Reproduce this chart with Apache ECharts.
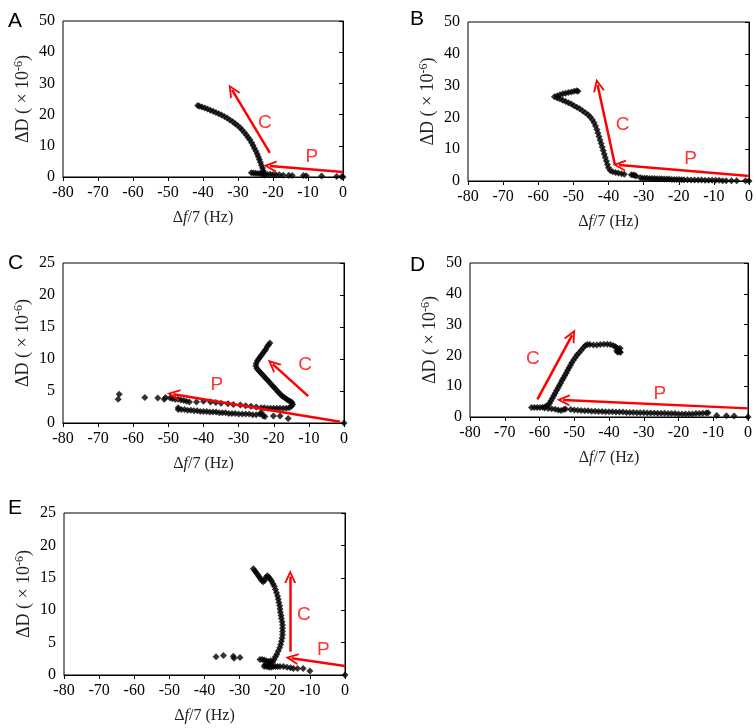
<!DOCTYPE html>
<html>
<head>
<meta charset="utf-8">
<script src="https://cdn.jsdelivr.net/npm/echarts@6/dist/echarts.min.js"></script>
<style>
html,body{margin:0;padding:0;background:#fff;}
#chart{width:756px;height:728px;}
</style>
</head>
<body>
<div id="chart"></div>
<script>
// ---------- data (Δf/7 in Hz, ΔD in 1e-6) ----------
const xTicks = [-80, -70, -60, -50, -40, -30, -20, -10, 0];
const panelLetters = ['A', 'B', 'C', 'D', 'E'];
const yMaxes = [50, 50, 25, 50, 25];
const yIntervals = [10, 10, 5, 10, 5];

const dataA = [
  [-41.5,22.9],[-41,22.7],[-40.3,22.4],[-39.5,22.1],[-38.7,21.8],[-37.9,21.4],[-37.1,21.1],[-36.3,20.7],
  [-35.5,20.3],[-34.7,19.9],[-33.9,19.4],[-33.1,18.9],[-32.3,18.3],[-31.5,17.7],[-30.8,17.1],[-30.1,16.5],
  [-29.4,15.8],[-28.8,15.1],[-28.2,14.3],[-27.6,13.5],[-27.1,12.7],[-26.6,11.9],[-26.1,11.0],[-25.7,10.1],
  [-25.3,9.2],[-24.9,8.3],[-24.5,7.4],[-24.2,6.5],[-23.9,5.6],[-23.6,4.7],[-23.3,3.8],[-23.0,2.9],
  [-22.8,2.0],[-22.6,1.2],[-22.5,0.6],
  [-26.2,1.4],[-25.6,1.3],[-25,1.2],[-24.4,1.1],[-23.8,1.1],[-23.2,1.0],[-22.4,1.0],[-21.6,0.9],
  [-20.8,0.9],[-20,0.8],[-19.2,0.7],[-18.2,0.7],[-17.1,0.6],[-15.5,0.6],[-14.5,0.5],[-11.3,0.5],
  [-10.5,0.4],[-6.1,0.3],[-1.8,0.2],[-0.4,0.1],[0,0]
];
const dataB = [
  [-55.4,26.5],[-54.6,26.8],[-53.8,27.1],[-53,27.4],[-52.2,27.6],[-51.4,27.8],[-50.6,28.0],[-49.8,28.2],
  [-49.1,28.4],[-48.7,28.2],
  [-54.6,26.1],[-53.8,25.8],[-53,25.4],[-52.2,25.0],[-51.4,24.6],[-50.6,24.2],[-49.8,23.7],[-49,23.2],
  [-48.2,22.7],[-47.4,22.1],[-46.6,21.5],[-45.8,20.8],[-45.2,20.1],
  [-44.6,19.3],[-44.1,18.3],[-43.7,17.3],[-43.3,16.2],[-43,15.1],[-42.7,14.0],[-42.4,12.9],[-42.1,11.8],
  [-41.8,10.7],[-41.5,9.6],[-41.2,8.5],[-40.9,7.4],[-40.6,6.3],[-40.3,5.2],[-40,4.2],[-39.5,3.3],
  [-38.8,2.9],[-38,2.7],[-37.2,2.5],[-36.3,2.3],[-35.5,2.1],[-33.5,2.0],[-33,1.9],[-32.5,1.8],[-32.2,1.6],
  [-31,1.1],[-30.3,0.9],[-29.7,0.9],[-29,0.9],[-28.3,0.8],[-27.6,0.8],[-26.9,0.8],[-26.2,0.7],[-25.5,0.7],
  [-24.8,0.7],[-24.1,0.6],[-23.4,0.6],[-22.7,0.6],[-22,0.5],[-21.3,0.5],[-20.6,0.5],[-19.9,0.5],[-19.2,0.4],
  [-18.5,0.4],[-17.5,0.4],[-16.5,0.3],[-15.5,0.3],[-14.5,0.3],[-13.5,0.3],[-12.5,0.2],[-11.5,0.2],
  [-10.5,0.2],[-9.5,0.2],[-8.5,0.2],[-7.5,0.1],[-6.5,0.1],[-5,0.1],[-3.5,0.1],[-1,0.1],[0,0]
];
const dataC = [
  [-21.1,12.5],[-21.5,12.2],[-21.9,11.9],[-22.3,11.5],[-22.7,11.2],[-23.1,10.9],[-23.5,10.6],[-23.9,10.3],
  [-24.3,10.0],[-24.7,9.7],[-25.0,9.3],[-25.1,8.9],[-24.8,8.5],[-24.3,8.2],[-23.8,7.9],[-23.3,7.6],
  [-22.8,7.3],[-22.3,7.0],[-21.8,6.7],[-21.3,6.4],[-20.8,6.1],[-20.3,5.8],[-19.8,5.5],[-19.3,5.2],
  [-18.8,4.9],[-18.3,4.6],[-17.8,4.3],[-17.3,4.1],[-16.8,3.9],[-16.3,3.7],[-15.8,3.5],[-15.3,3.4],
  [-14.8,3.2],[-14.6,2.9],[-15.0,2.6],[-15.6,2.4],[-16.4,2.3],[-17.3,2.3],[-18.2,2.3],[-19.1,2.3],
  [-20.0,2.3],[-20.9,2.3],[-21.8,2.3],[-22.7,2.4],[-23.6,2.4],
  [-25,2.5],[-26.5,2.6],[-28,2.7],[-29.5,2.8],[-31.5,2.9],[-33,3.0],[-35,3.1],[-36.5,3.2],[-38,3.3],
  [-40,3.4],[-42,3.3],[-44,3.3],[-44.8,3.4],[-45.6,3.5],[-46.4,3.6],[-47.2,3.7],[-48,3.7],[-48.8,3.8],
  [-49.5,3.9],[-50.8,4.0],[-51.2,3.7],[-53,3.9],[-56.7,4.0],[-64,4.5],[-64.3,3.7],
  [-47.2,2.4],[-47.2,2.1],[-46.3,2.1],[-45.4,2.1],[-44.5,2.0],[-43.6,2.0],[-42.7,1.9],[-41.8,1.9],
  [-40.9,1.8],[-40,1.8],[-39.1,1.8],[-38.2,1.7],[-37.3,1.7],[-36.4,1.7],[-35.5,1.6],[-34.6,1.6],
  [-33.7,1.6],[-32.8,1.5],[-31.9,1.5],[-31,1.5],[-30,1.4],[-29,1.4],[-28,1.4],[-27,1.4],[-26,1.3],
  [-25,1.3],[-24,1.4],[-23.5,1.6],[-23,1.1],[-22.5,1.0],[-20.1,1.1],[-18.2,1.1],[-15.9,0.7],[0,0]
];
const dataD = [
  [-62.3,3.1],[-61.5,3.1],[-60.7,3.1],[-59.9,3.1],[-59.1,3.2],[-58.3,3.4],[-57.6,3.8],[-57.1,4.5],
  [-56.7,5.3],[-56.3,6.1],[-55.9,6.9],[-55.5,7.7],[-55.1,8.6],[-54.7,9.4],[-54.3,10.2],[-53.9,11.0],
  [-53.5,11.9],[-53.1,12.7],[-52.7,13.5],[-52.3,14.3],[-51.9,15.2],[-51.5,16.0],[-51.1,16.8],[-50.7,17.6],
  [-50.2,18.5],[-49.7,19.3],[-49.2,20.1],[-48.6,20.9],[-48,21.7],[-47.4,22.5],[-46.8,23.2],[-46.2,23.5],
  [-45.5,23.5],[-44.5,23.4],[-43.5,23.4],[-42.5,23.5],[-41.5,23.6],[-40.5,23.6],[-39.6,23.5],[-38.8,23.2],
  [-38.1,22.8],[-37.6,22.3],[-37.2,21.8],[-37,21.2],[-37.5,21.0],[-36.8,22.3],[-37.8,21.5],[-36.7,21.0],
  [-58.5,2.9],[-57.5,2.8],[-56.5,2.7],[-55.5,2.5],[-54.6,2.3],[-53.8,2.1],[-53,2.4],[-52.5,2.6],
  [-51,2.4],[-50,2.3],[-49,2.2],[-48,2.1],[-47,2.0],[-46,2.0],[-45,1.9],[-44,1.9],[-43,1.8],[-42,1.8],
  [-41,1.7],[-40,1.7],[-39,1.7],[-38,1.6],[-37,1.6],[-36,1.6],[-35,1.5],[-34,1.5],[-33,1.5],[-32,1.4],
  [-31,1.4],[-30,1.4],[-29,1.3],[-28,1.3],[-27,1.3],[-26,1.2],[-25,1.2],[-24,1.2],[-23,1.1],[-22,1.1],
  [-21,1.1],[-20,1.0],[-19,1.0],[-18,1.0],[-17,1.0],[-16,1.0],[-15,1.1],[-14,1.1],[-13,1.2],[-12,1.3],
  [-11.5,1.4],[-9,0.5],[-6.2,0.4],[-4,0.3],[0,0]
];
const dataE = [
  [-26.1,16.4],[-25.7,16.1],[-25.3,15.8],[-24.9,15.5],[-24.5,15.2],[-24.1,14.9],[-23.7,14.6],[-23.3,14.4],
  [-22.9,14.6],[-22.5,15.1],[-22.1,15.3],[-21.7,15.1],[-21.3,14.8],[-20.9,14.5],[-20.5,14.1],[-20.1,13.7],
  [-19.8,13.2],[-19.5,12.7],[-19.2,12.2],[-19,11.7],[-18.8,11.2],[-18.6,10.7],[-18.5,10.2],[-18.4,9.7],
  [-18.2,9.2],[-18.1,8.7],[-17.9,8.2],[-17.8,7.7],[-17.8,7.2],[-17.8,6.7],[-17.8,6.2],[-17.9,5.7],
  [-18.1,5.2],[-18.3,4.7],[-18.6,4.2],[-19,3.7],[-19.4,3.2],[-19.8,2.8],[-20.2,2.4],[-20.6,2.0],
  [-21.2,1.7],[-21.8,1.5],[-22.4,1.4],[-23,1.3],
  [-24.2,2.4],[-23.6,2.4],[-23,2.3],[-22.4,2.2],[-21.8,2.1],[-21.2,2.2],[-22.8,1.6],[-22.2,1.3],
  [-21.6,1.2],[-21,1.2],[-20.4,1.3],[-19.8,1.3],[-19.2,1.3],[-18.5,1.3],[-17.5,1.3],[-16.5,1.2],
  [-15.5,1.1],[-14.7,1.0],[-13.5,1.0],[-11.9,1.0],[-10,0.6],[0,0],
  [-36.7,2.8],[-34.6,3.0],[-31.8,2.9],[-31.6,2.6],[-29.9,2.7]
];
const panelData = [dataA, dataB, dataC, dataD, dataE];

// arrows: [fromX, fromY, toX, toY]
const arrowsA = [[-20.9,7.7,-31.7,27.9],[0,1.6,-20.9,3.5]];
const arrowsB = [[-38.2,5.3,-43.1,30.2],[0,1.6,-37,5.0]];
const arrowsC = [[-10.2,4.2,-20.3,9.2],[-1.1,0.2,-48.6,4.5]];
const arrowsD = [[-60.6,5.7,-50.6,26.6],[0,2.8,-53.2,5.5]];
const arrowsE = [[-15.6,3.6,-15.6,15.2],[0,1.4,-15.2,2.6]];
const panelArrows = [arrowsA, arrowsB, arrowsC, arrowsD, arrowsE];

// red phase labels: [text, x, y]
const labelsA = [['C',-22.3,17.3],['P',-8.9,6.5]];
const labelsB = [['C',-36,17.6],['P',-16.6,7.1]];
const labelsC = [['C',-11.1,9.1],['P',-36.2,5.9]];
const labelsD = [['C',-61.9,19],['P',-25.4,7.5]];
const labelsE = [['C',-11.7,9.3],['P',-6.2,3.9]];
const panelLabels = [labelsA, labelsB, labelsC, labelsD, labelsE];

// ---------- layout ----------
const grids = [
  {left: 63, top: 21, width: 280, height: 156},
  {left: 468, top: 22, width: 282, height: 159},
  {left: 63, top: 263, width: 281, height: 160},
  {left: 470, top: 263, width: 278, height: 154},
  {left: 64, top: 513, width: 281, height: 162}
];
const letterPos = [[3,6],[405,4],[3,248],[405,250],[3,493]];

const serif = '"Liberation Serif", "Times New Roman", serif';
const sans = '"Liberation Sans", Arial, sans-serif';
const RED = '#ff0000';
const chevron = 'path://M0,12 L6,0 L12,12 L10,12 L6,4 L2,12 Z';

const option = {
  animation: false,
  backgroundColor: '#fff',
  title: panelLetters.map((t, i) => ({
    text: t, left: letterPos[i][0], top: letterPos[i][1],
    textStyle: {fontFamily: sans, fontSize: 21, fontWeight: 'normal', color: '#000'}
  })),
  grid: grids.map(g => Object.assign({show: true, borderColor: '#000', borderWidth: 1, backgroundColor: 'transparent'}, g)),
  xAxis: grids.map((g, i) => ({
    type: 'value', gridIndex: i, min: xTicks[0], max: xTicks[xTicks.length - 1], interval: 10,
    name: '{n|Δ}{i|f}{n|/7 (Hz)}', nameLocation: 'middle', nameGap: 33,
    nameTextStyle: {rich: {
      n: {fontFamily: serif, fontSize: 16, color: '#222'},
      i: {fontFamily: serif, fontSize: 16, fontStyle: 'italic', color: '#222'}
    }},
    axisLine: {show: true, onZero: false, lineStyle: {color: '#000', width: 1}},
    axisTick: {show: true, inside: false, length: 4, lineStyle: {color: '#000'}},
    axisLabel: {fontFamily: serif, fontSize: 16, color: '#000', margin: 8},
    splitLine: {show: false}
  })),
  yAxis: grids.map((g, i) => ({
    type: 'value', gridIndex: i, min: 0, max: yMaxes[i], interval: yIntervals[i],
    name: '{n|ΔD ( × 10}{s|-6}{n|)}', nameLocation: 'middle', nameRotate: 90, nameGap: 30,
    nameTextStyle: {rich: {
      n: {fontFamily: serif, fontSize: 18, color: '#222', lineHeight: 20},
      s: {fontFamily: serif, fontSize: 12, color: '#222', verticalAlign: 'top', lineHeight: 20}
    }},
    axisLine: {show: true, lineStyle: {color: '#000', width: 1}},
    axisTick: {show: true, inside: false, length: 4, lineStyle: {color: '#000'}},
    axisLabel: {fontFamily: serif, fontSize: 16, color: '#000', margin: 8},
    splitLine: {show: false}
  })),
  series: []
};

panelData.forEach((d, i) => {
  option.series.push({
    type: 'scatter', xAxisIndex: i, yAxisIndex: i,
    data: d, symbol: 'diamond', symbolSize: 7,
    itemStyle: {color: '#000'}, silent: true,
    markLine: {
      silent: true, animation: false,
      symbol: ['none', chevron], symbolSize: [12, 13],
      lineStyle: {color: RED, width: 2.5, type: 'solid'},
      label: {show: false},
      data: panelArrows[i].map(a => [
        {coord: [a[0], a[1]]},
        {coord: [a[2], a[3]]}
      ])
    }
  });
  option.series.push({
    type: 'scatter', xAxisIndex: i, yAxisIndex: i, silent: true,
    data: panelLabels[i].map(l => ({name: l[0], value: [l[1], l[2]]})),
    symbolSize: 0,
    label: {show: true, position: 'inside', formatter: '{b}', fontFamily: sans, fontSize: 19, color: RED}
  });
});

const chart = echarts.init(document.getElementById('chart'), null, {renderer: 'canvas'});
chart.setOption(option);
</script>
</body>
</html>
